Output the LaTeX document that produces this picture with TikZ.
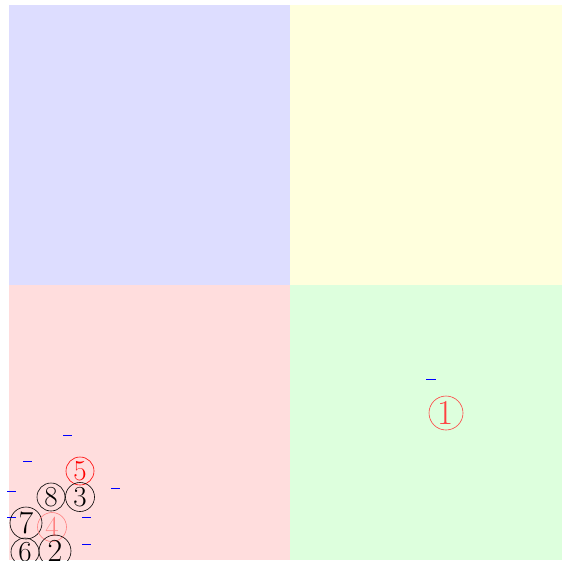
\documentclass[tikz,border=0pt]{standalone}
\begin{document}
\begin{tikzpicture}[x=1pt,y=-1pt,
  cnum/.style={circle,draw,inner sep=0pt,line width=0.6pt,font=\fontsize{29}{29}\selectfont},
  tick/.style={draw=blue,line width=1pt}]
\useasboundingbox (0,0) rectangle (562,560);
\fill[white] (0,0) rectangle (562,560);
\begin{scope}
\clip (0,0) rectangle (562,560);
\fill[fill={rgb,255:red,221;green,221;blue,255}] (9,5) rectangle (290,285);
\fill[fill={rgb,255:red,255;green,255;blue,221}] (290,5) rectangle (562,285);
\fill[fill={rgb,255:red,255;green,221;blue,221}] (9,285) rectangle (290,560);
\fill[fill={rgb,255:red,221;green,255;blue,221}] (290,285) rectangle (562,560);
% ticks
\coordinate (t1a) at (426,379); \coordinate (t1b) at (436,379);
\draw[tick] (t1a) -- (t1b);
\coordinate (t2a) at (63,435); \coordinate (t2b) at (72,435);
\draw[tick] (t2a) -- (t2b);
\coordinate (t3a) at (23,461); \coordinate (t3b) at (32,461);
\draw[tick] (t3a) -- (t3b);
\coordinate (t4a) at (7,491); \coordinate (t4b) at (16,491);
\draw[tick] (t4a) -- (t4b);
\coordinate (t5a) at (111,488); \coordinate (t5b) at (120,488);
\draw[tick] (t5a) -- (t5b);
\coordinate (t6a) at (7,517); \coordinate (t6b) at (16,517);
\draw[tick] (t6a) -- (t6b);
\coordinate (t7a) at (82,517); \coordinate (t7b) at (91,517);
\draw[tick] (t7a) -- (t7b);
\coordinate (t8a) at (82,544); \coordinate (t8b) at (91,544);
\draw[tick] (t8a) -- (t8b);
% circled numbers
\node[cnum,draw=red!75,text=red!75,minimum size=34pt,font=\fontsize{35}{35}\selectfont] (n1) at (446,413) {1};
\node[cnum,draw=red,text=red,minimum size=28pt] (n5) at (80,471) {5};
\node[cnum,minimum size=28pt] (n8) at (51,497) {8};
\node[cnum,minimum size=29pt] (n3) at (80,497) {3};
\node[cnum,minimum size=32pt,font=\fontsize{32}{32}\selectfont] (n7) at (26,523) {7};
\node[cnum,draw=red!50,text=red!50,minimum size=29pt] (n4) at (52,527) {4};
\node[cnum,minimum size=28pt] (n6) at (25,552) {6};
\node[cnum,minimum size=32pt,font=\fontsize{32}{32}\selectfont] (n2) at (55,551) {2};
\end{scope}
\end{tikzpicture}
\end{document}
